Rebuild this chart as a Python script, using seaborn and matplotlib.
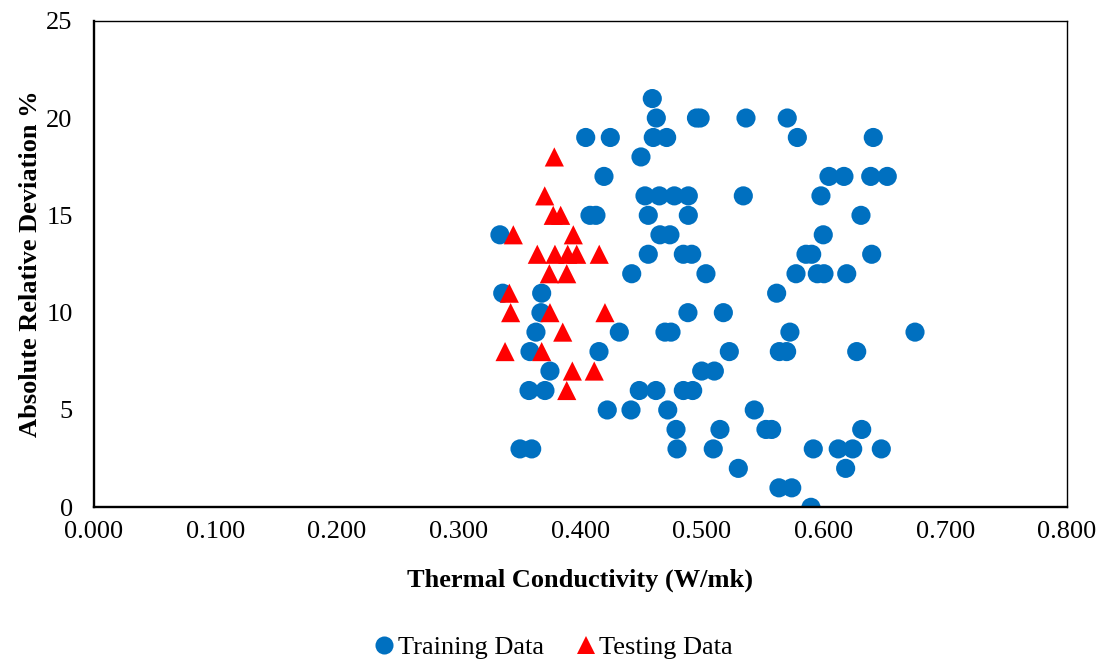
import matplotlib
matplotlib.use("Agg")
import matplotlib.pyplot as plt
from matplotlib.lines import Line2D
from matplotlib.ticker import MultipleLocator, FormatStrFormatter
import seaborn as sns
import pandas as pd

# -----------------------------
# Data
# -----------------------------
train_x = [0.4592, 0.4625, 0.4955, 0.4985, 0.5362, 0.5701,
           0.4045, 0.4247, 0.4600, 0.4710, 0.5784, 0.6408,
           0.4499,
           0.4195, 0.6044, 0.6167, 0.6387, 0.6523,
           0.4532, 0.4650, 0.4773, 0.4888, 0.5340, 0.5978,
           0.4080, 0.4129, 0.4559, 0.4888, 0.6307,
           0.3340, 0.4655, 0.4737, 0.5997,
           0.4559, 0.4847, 0.4916, 0.5855, 0.5902, 0.6395,
           0.4423, 0.5033, 0.5773, 0.5948, 0.6003, 0.6190,
           0.3363, 0.3683, 0.5614,
           0.3677, 0.4885, 0.5176,
           0.3636, 0.4321, 0.4696, 0.4746, 0.5723, 0.6751,
           0.3587, 0.4154, 0.5225, 0.5636, 0.5696, 0.6272,
           0.3751, 0.4998, 0.5102,
           0.3579, 0.3710, 0.4485, 0.4622, 0.4847, 0.4924,
           0.4222, 0.4417, 0.4719, 0.5430,
           0.4787, 0.5148, 0.5526, 0.5573, 0.6313,
           0.3505, 0.3601, 0.4795, 0.5093, 0.5915, 0.6120, 0.6239, 0.6474,
           0.5299, 0.6181,
           0.5633, 0.5738,
           0.5896]
train_y = [21, 20, 20, 20, 20, 20,
           19, 19, 19, 19, 19, 19,
           18,
           17, 17, 17, 17, 17,
           16, 16, 16, 16, 16, 16,
           15, 15, 15, 15, 15,
           14, 14, 14, 14,
           13, 13, 13, 13, 13, 13,
           12, 12, 12, 12, 12, 12,
           11, 11, 11,
           10, 10, 10,
           9, 9, 9, 9, 9, 9,
           8, 8, 8, 8, 8, 8,
           7, 7, 7,
           6, 6, 6, 6, 6, 6,
           5, 5, 5, 5,
           4, 4, 4, 4, 4,
           3, 3, 3, 3, 3, 3, 3, 3,
           2, 2,
           1, 1,
           0]

test_x = [0.3787, 0.3708, 0.3778, 0.3839, 0.3450, 0.3943,
          0.3647, 0.3792, 0.3897, 0.3971, 0.4156,
          0.3746, 0.3889, 0.3417,
          0.3428, 0.3751, 0.4203,
          0.3856, 0.3382, 0.3683,
          0.3935, 0.4115, 0.3889]
test_y = [18, 16, 15, 15, 14, 14,
          13, 13, 13, 13, 13,
          12, 12, 11,
          10, 10, 10,
          9, 8, 8,
          7, 7, 6]

series_names = ["Training Data", "Testing Data"]
series_colors = ["#0070C0", "#FF0000"]
series_markers = ["o", "^"]

# -----------------------------
# Plot
# -----------------------------
sns.set_theme(style="white")
plt.rcParams["font.family"] = ["Liberation Serif", "DejaVu Serif"]
plt.rcParams["text.color"] = "black"
plt.rcParams["axes.labelcolor"] = "black"
plt.rcParams["xtick.color"] = "black"
plt.rcParams["ytick.color"] = "black"

df = pd.DataFrame({
    "x": train_x + test_x,
    "y": train_y + test_y,
    "set": [series_names[0]] * len(train_x) + [series_names[1]] * len(test_x),
})

fig = plt.figure(figsize=(11.04, 6.64), dpi=100)
ax = fig.add_axes([93.5 / 1104, 1 - 507.3 / 664, (1067 - 93.5) / 1104, (507.3 - 20.7) / 664])

sns.scatterplot(data=df, x="x", y="y", hue="set", style="set",
                palette=dict(zip(series_names, series_colors)),
                markers=dict(zip(series_names, series_markers)),
                s=190, linewidth=0, alpha=1, ax=ax, legend=False)

ax.set_xlim(0, 0.8)
ax.set_ylim(0, 25)
ax.xaxis.set_major_locator(MultipleLocator(0.1))
ax.xaxis.set_minor_locator(MultipleLocator(0.02))
ax.xaxis.set_major_formatter(FormatStrFormatter("%.3f"))
ax.yaxis.set_major_locator(MultipleLocator(5))
ax.yaxis.set_minor_locator(MultipleLocator(1))
ax.tick_params(axis="both", which="both", direction="in", length=5, width=1,
               color="black", labelsize=19, labelcolor="black")
ax.tick_params(axis="x", which="major", pad=10)
ax.tick_params(axis="y", which="major", pad=15)

for side in ["top", "right"]:
    ax.spines[side].set_linewidth(1.0)
    ax.spines[side].set_color("black")
for side in ["left", "bottom"]:
    ax.spines[side].set_linewidth(1.7)
    ax.spines[side].set_color("black")

ax.set_xlabel("Thermal Conductivity (W/mk)", fontsize=19, fontweight="bold",
              labelpad=18, color="black")
ax.set_ylabel("Absolute Relative Deviation %", fontsize=19, fontweight="bold",
              labelpad=3, color="black")

handles = [Line2D([], [], linestyle="none", marker=m, color=c, markersize=13, markeredgewidth=0)
           for m, c in zip(series_markers, series_colors)]
fig.legend(handles, series_names, loc="lower center", bbox_to_anchor=(0.5, -0.028),
           ncol=2, frameon=False, fontsize=19, handletextpad=0.0, columnspacing=1.1,
           handlelength=1.0, labelcolor="black")

fig.savefig("out.png", dpi=100)
